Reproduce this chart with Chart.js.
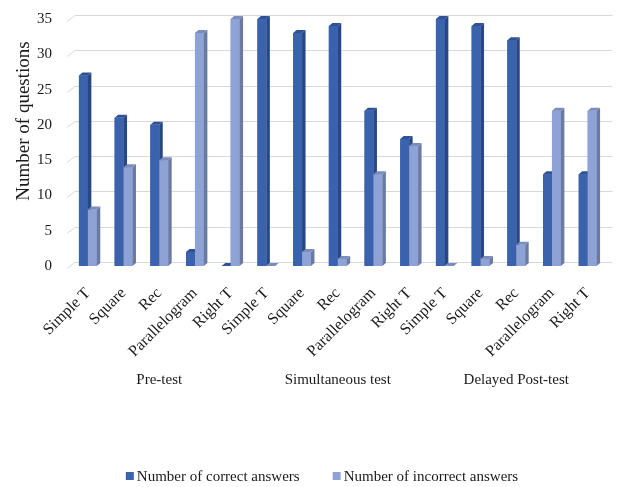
<!DOCTYPE html>
<html>
<head>
<meta charset="utf-8">
<script src="https://cdn.jsdelivr.net/npm/chart.js@4/dist/chart.umd.min.js"></script>
<style>
  html, body { margin: 0; padding: 0; background: #ffffff; }
  #wrap { width: 618px; height: 487px; }
</style>
</head>
<body>
<div id="wrap"><canvas id="c" width="618" height="487"></canvas></div>
<script>
// Shape names per test, repeated for each of the three sessions
const shapes = ['Simple T', 'Square', 'Rec', 'Parallelogram', 'Right T'];
const sessions = ['Pre-test', 'Simultaneous test', 'Delayed Post-test'];
const categories = [].concat(shapes, shapes, shapes);

const correctAnswers   = [27, 21, 20, 2, 0,  35, 33, 34, 22, 18,  35, 34, 32, 13, 13];
const incorrectAnswers = [8, 14, 15, 33, 35,  0, 2, 1, 13, 17,  0, 1, 3, 22, 22];

const seriesNames = ['Number of correct answers', 'Number of incorrect answers'];
const yTicks = [0, 5, 10, 15, 20, 25, 30, 35];

const SERIF = '"Liberation Serif", "Times New Roman", serif';
const TEXT = '#1a1a1a';

// face colours: front, side, top
const faces = [
  { front: '#3b62ad', side: '#284785', top: '#2f5196' },
  { front: '#8fa2d5', side: '#6a7aa3', top: '#7b8dbf' }
];
const DX = 3.5, DY = 3;      // bar depth
const WX = 5, WY = 4;        // back wall offset for gridlines

const boxPlugin = {
  id: 'box3d',
  beforeDatasetsDraw(chart) {
    const ctx = chart.ctx;
    const ys = chart.scales.y;
    const area = chart.chartArea;
    ctx.save();
    ctx.strokeStyle = '#d9d9d9';
    ctx.lineWidth = 1;
    yTicks.forEach(v => {
      const py = Math.round(ys.getPixelForValue(v)) + 0.5;
      ctx.beginPath();
      ctx.moveTo(area.left - 3, py + 2);
      ctx.lineTo(area.left + WX, py - WY);
      ctx.lineTo(area.right + 7, py - WY);
      ctx.stroke();
    });
    ctx.restore();
  },
  afterDatasetsDraw(chart) {
    const ctx = chart.ctx;
    ctx.save();
    const n = chart.data.labels.length;
    for (let i = 0; i < n; i++) {
      chart.data.datasets.forEach((ds, di) => {
        const el = chart.getDatasetMeta(di).data[i];
        const { x, y, base, width } = el.getProps(['x', 'y', 'base', 'width'], true);
        const l = x - width / 2, r = x + width / 2;
        const c = faces[di];
        ctx.fillStyle = c.front;
        ctx.fillRect(l, y, r - l, base - y);
        ctx.fillStyle = c.side;
        ctx.beginPath();
        ctx.moveTo(r, y); ctx.lineTo(r + DX, y - DY);
        ctx.lineTo(r + DX, base - DY); ctx.lineTo(r, base);
        ctx.closePath(); ctx.fill();
        ctx.fillStyle = c.top;
        ctx.beginPath();
        ctx.moveTo(l, y); ctx.lineTo(l + DX, y - DY);
        ctx.lineTo(r + DX, y - DY); ctx.lineTo(r, y);
        ctx.closePath(); ctx.fill();
      });
    }
    ctx.restore();
  },
  afterDraw(chart) {
    const ctx = chart.ctx;
    const xs = chart.scales.x;
    ctx.save();
    ctx.fillStyle = TEXT;
    // session names under each group of five shapes
    ctx.font = '15px ' + SERIF;
    ctx.textAlign = 'center';
    ctx.textBaseline = 'middle';
    sessions.forEach((s, k) => {
      ctx.fillText(s, xs.getPixelForValue(k * shapes.length + 2), 380);
    });
    // y axis title
    ctx.save();
    ctx.translate(24, 121);
    ctx.rotate(-Math.PI / 2);
    ctx.font = '19px ' + SERIF;
    ctx.fillText('Number of questions', 0, 0);
    ctx.restore();
    // legend
    ctx.font = '15px ' + SERIF;
    ctx.textAlign = 'left';
    const gap = 33, box = 8, pad = 3;
    const widths = seriesNames.map(t => ctx.measureText(t).width);
    const total = widths.reduce((a, w) => a + box + pad + w, 0) + gap;
    let lx = 322 - total / 2;
    const ly = 476;
    seriesNames.forEach((t, k) => {
      ctx.fillStyle = faces[k].front;
      ctx.fillRect(lx, ly - box / 2, box, box);
      ctx.fillStyle = TEXT;
      ctx.fillText(t, lx + box + pad, ly + 1);
      lx += box + pad + widths[k] + gap;
    });
    ctx.restore();
  }
};

new Chart(document.getElementById('c'), {
  type: 'bar',
  data: {
    labels: categories,
    datasets: [
      { label: seriesNames[0], data: correctAnswers, backgroundColor: faces[0].front },
      { label: seriesNames[1], data: incorrectAnswers, backgroundColor: faces[1].front }
    ]
  },
  options: {
    responsive: false,
    animation: false,
    devicePixelRatio: 1,
    categoryPercentage: 0.5,
    barPercentage: 1.0,
    layout: { padding: { top: 15, right: 12.5, bottom: 0, left: 0 } },
    plugins: { legend: { display: false }, tooltip: { enabled: false } },
    scales: {
      x: {
        grid: { display: false },
        border: { display: false },
        ticks: {
          autoSkip: false, minRotation: 45, maxRotation: 45,
          color: TEXT, padding: 10,
          font: { family: SERIF, size: 16 }
        },
        afterFit(s) { s.height = 221; }
      },
      y: {
        min: 0, max: 35,
        grid: { display: false },
        border: { display: false },
        afterBuildTicks(s) { s.ticks = yTicks.map(v => ({ value: v })); },
        ticks: { color: TEXT, padding: 10, font: { family: SERIF, size: 15 } },
        afterFit(s) { s.width = 70; }
      }
    }
  },
  plugins: [boxPlugin]
});
</script>
</body>
</html>
